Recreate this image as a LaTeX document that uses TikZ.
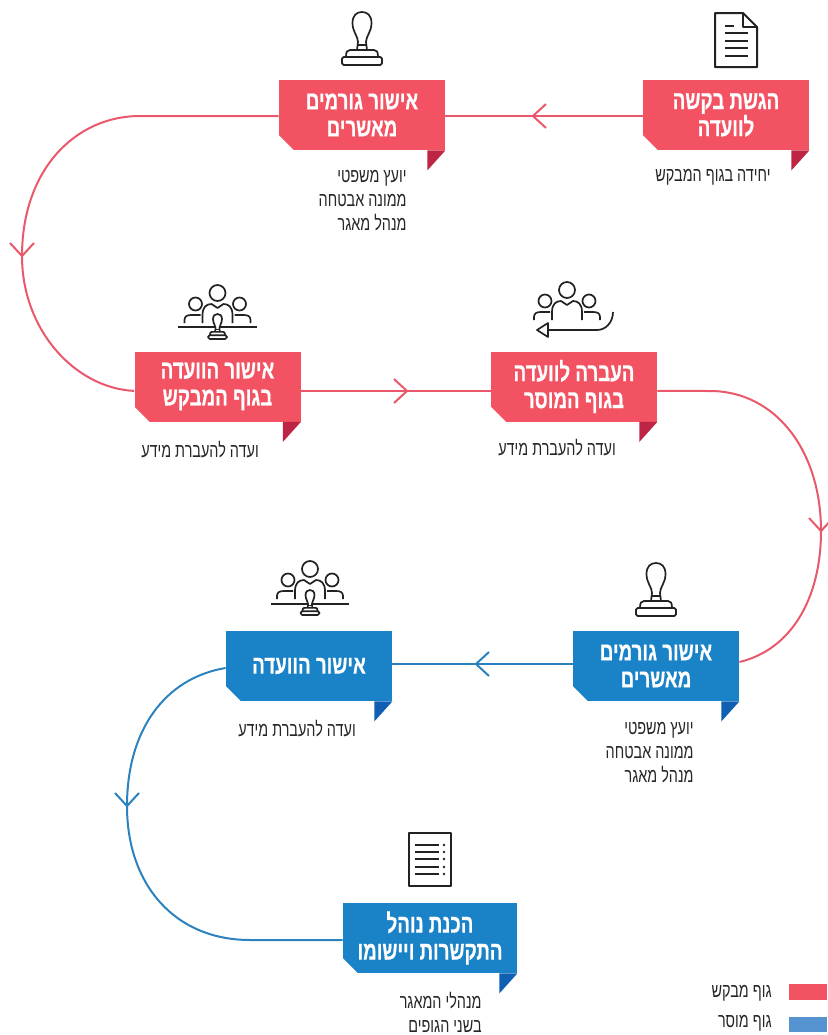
\documentclass[tikz,border=0pt]{standalone}
\usepackage{fontspec}
\usepackage{xcolor}
\usetikzlibrary{calc}
\TeXXeTstate=1
\newfontfamily\hebfont[Script=Hebrew,FakeStretch=0.72,BoldFeatures={FakeBold=0.5}]{Liberation Sans}
\newcommand{\rl}[1]{\beginR #1\endR}
\newcommand{\boxtails}[2]{%
    \fill[white] (#1.south west) -- ++(15.5,0) -- ++(-15.5,-15.5) -- cycle;
    \fill[#2] (#1.south east) -- ++(-18,0) -- ++(0,20) -- cycle;
}
\definecolor{reqred}{HTML}{F25262}
\definecolor{reqdark}{HTML}{BE2444}
\definecolor{reqline}{HTML}{E9596B}
\definecolor{senblue}{HTML}{1A82C6}
\definecolor{sendark}{HTML}{0F5FB2}
\definecolor{senline}{HTML}{2C82BF}
\definecolor{senkey}{HTML}{5594D0}
\definecolor{iconline}{HTML}{222222}
\tikzset{
    stagebox/.style={minimum width=83pt, minimum height=35pt, inner sep=0pt,
        align=center, text=white, font=\hebfont\bfseries\fontsize{13}{13.5}\selectfont},
    redbox/.style={stagebox, fill=reqred},
    bluebox/.style={stagebox, fill=senblue},
    notetext/.style={inner sep=0pt, text=black!85, font=\hebfont\fontsize{10}{12}\selectfont},
    redflow/.style={draw=reqline, line width=1pt},
    blueflow/.style={draw=senline, line width=1pt},
    icon/.style={draw=iconline, line width=1pt, line join=round},
    thinicon/.style={draw=iconline, line width=.85pt, line join=round},
    barb/.pic={
        \draw[pic actions, line width=1pt] (-13,-12) -- (0,0) -- (-13,12);
    },
    stamp/.pic={
        \draw[thinicon, fill=white] (-4,30) .. controls (-4,24) and (-9.5,20) .. (-9.5,11)
            .. controls (-9.5,3) and (-5,0) .. (0,0) .. controls (5,0) and (9.5,3) .. (9.5,11)
            .. controls (9.5,20) and (4,24) .. (4,30) -- (5,38) -- (-5,38) -- cycle;
        \draw[thinicon] (-4.5,33) -- (4.5,33);
        \draw[thinicon, fill=white] (-16,45) .. controls (-16,40) and (-15,38) .. (-12,38) -- (12,38)
            .. controls (15,38) and (16,40) .. (16,45);
        \draw[thinicon, fill=white, rounded corners=.8pt] (-20,45) rectangle (20,53);
    },
    people/.pic={
        \draw[thinicon] (0,0) circle (8);
        \draw[thinicon] (-22,11) circle (6.5);
        \draw[thinicon] (22,11) circle (6.5);
        \draw[thinicon] (-15,30) -- (-15,22) .. controls (-15,14) and (-11,11) .. (-6,11) -- (0,15)
            -- (6,11) .. controls (11,11) and (15,14) .. (15,22) -- (15,30);
        \draw[thinicon] (-33,30) -- (-33,27) .. controls (-33,23) and (-30,22) .. (-26,22) -- (-17,22);
        \draw[thinicon] (33,30) -- (33,27) .. controls (33,23) and (30,22) .. (26,22) -- (17,22);
    },
}

\begin{document}
\begin{tikzpicture}[x=.5pt, y=-.5pt]
    \useasboundingbox (0,0) rectangle (827,1035);

    % Red stages
    \node[redbox] (submit) at (726,115) {\rl{הגשת בקשה}\\\rl{לוועדה}};
    \boxtails{submit}{reqdark}
    \node[redbox] (signers) at (362,115) {\rl{אישור גורמים}\\\rl{מאשרים}};
    \boxtails{signers}{reqdark}
    \node[redbox] (reqboard) at (217.5,386.5) {\rl{אישור הוועדה}\\\rl{בגוף המבקש}};
    \boxtails{reqboard}{reqdark}
    \node[redbox] (handover) at (574,386.5) {\rl{העברה לוועדה}\\\rl{בגוף המוסר}};
    \boxtails{handover}{reqdark}

    % Blue stages
    \node[bluebox] (sensigners) at (656,666) {\rl{אישור גורמים}\\\rl{מאשרים}};
    \boxtails{sensigners}{sendark}
    \node[bluebox] (senboard) at (309,666) {\rl{אישור הוועדה}};
    \boxtails{senboard}{sendark}
    \node[bluebox, minimum width=87pt] (procedure) at (430,938) {\rl{הכנת נוהל}\\\rl{התקשרות ויישומו}};
    \boxtails{procedure}{sendark}

    % Notes
    \node[notetext] (submitnote) at (713,177) {\rl{יחידה בגוף המבקש}};
    \node[notetext, align=right, anchor=north east] (signersnote) at (407,170)
        {\rl{יועץ משפטי}\\\rl{ממונה אבטחה}\\\rl{מנהל מאגר}};
    \node[notetext] (reqboardnote) at (200,450) {\rl{ועדה להעברת מידע}};
    \node[notetext] (handovernote) at (557,448) {\rl{ועדה להעברת מידע}};
    \node[notetext, align=right, anchor=north east] (sensignersnote) at (694,722)
        {\rl{יועץ משפטי}\\\rl{ממונה אבטחה}\\\rl{מנהל מאגר}};
    \node[notetext] (senboardnote) at (297,729) {\rl{ועדה להעברת מידע}};
    \node[notetext, align=right, anchor=north east] (procedurenote) at (482,992)
        {\rl{מנהלי המאגר}\\\rl{בשני הגופים}};

    % Connectors
    \coordinate (tipa) at (533,116);
    \coordinate (tipb) at (22,256);
    \coordinate (tipc) at (407,391);
    \coordinate (tipd) at (821,531);
    \coordinate (tipe) at (476,664);
    \coordinate (tipf) at (127,806);
    \draw[redflow] ([yshift=-.5pt]submit.west) -- ([yshift=-.5pt]signers.east);
    \draw[redflow] ([yshift=-.5pt]signers.west) -- (140,116)
        .. controls (75,116) and (22,170) .. (tipb)
        .. controls (22,330) and (75,388) .. ([yshift=-2.2pt]reqboard.west);
    \draw[redflow] ([yshift=-2.2pt]reqboard.east) -- ([yshift=-2.2pt]handover.west);
    \draw[redflow] ([yshift=-2.2pt]handover.east) -- (710,391)
        .. controls (775,391) and (821,450) .. (tipd)
        .. controls (821,600) and (790,650) .. ([yshift=2pt]sensigners.east);
    \draw[blueflow] ([yshift=1pt]sensigners.west) -- ([yshift=1pt]senboard.east);
    \draw[blueflow] ([yshift=-1pt]senboard.west)
        .. controls (165,678) and (127,730) .. (tipf)
        .. controls (127,885) and (175,940) .. (250,940) -- ([yshift=-1pt]procedure.west);
    \pic[draw=reqline, rotate=180] at (tipa) {barb};
    \pic[draw=reqline, rotate=-90] at (tipb) {barb};
    \pic[draw=reqline] at (tipc) {barb};
    \pic[draw=reqline, rotate=-90] at (tipd) {barb};
    \pic[draw=senline, rotate=180] at (tipe) {barb};
    \pic[draw=senline, rotate=-90] at (tipf) {barb};

    % Page icon
    \draw[icon] (715,13) -- (743,13) -- (757,27) -- (757,67) -- (715,67) -- cycle;
    \draw[thinicon] (743,13) -- (743,27) -- (757,27);
    \draw[icon] (725,26) -- (734,26);
    \foreach \y in {33,41,48,56} {
        \draw[icon] (725,\y) -- (748,\y);
    }

    % Stamps
    \pic at (362,12) {stamp};
    \pic at (656,563) {stamp};

    % Committees
    \pic at (217.5,293) {people};
    \draw[thinicon] (178,327) -- (257,327);
    \pic[scale=.47] at (217.5,314) {stamp};
    \pic at (310,569) {people};
    \draw[thinicon] (271,604) -- (349,604);
    \pic[scale=.47] at (310,590) {stamp};
    \pic at (567,290) {people};
    \draw[thinicon] (613,312) .. controls (613,322) and (606,330) .. (597,330) -- (548,330);
    \draw[thinicon] (537,330) -- (548,323) -- (548,337) -- cycle;

    % Checklist icon
    \draw[thinicon] (409,833) rectangle (451,886);
    \foreach \y in {845,852,859,867,874} {
        \draw[icon] (415,\y) -- (439,\y);
        \fill[iconline] (444,\y) circle (1.3);
    }

    % Key
    \fill[reqred] (789,984) rectangle (827,1000);
    \fill[senkey] (789,1017) rectangle (827,1032);
    \node[notetext, anchor=east] (keyred) at (772,993) {\rl{גוף מבקש}};
    \node[notetext, anchor=east] (keyblue) at (772,1023) {\rl{גוף מוסר}};
\end{tikzpicture}
\end{document}
